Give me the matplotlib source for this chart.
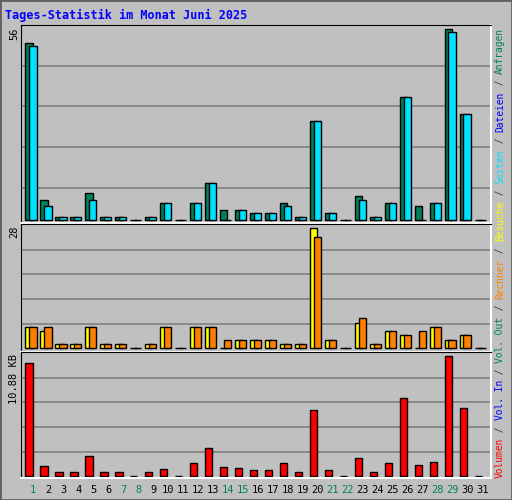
import matplotlib
matplotlib.use("Agg")
import matplotlib.pyplot as plt
from matplotlib.patches import Rectangle

days = list(range(1, 32))
hits  = [52,6,1,1,8,1,1,0,1,5,0,5,11,3,3,2,2,5,1,29,2,0,7,1,5,36,4,5,56,31,0]
files = [51,4,1,1,6,1,1,0,1,5,0,5,11,0,3,2,2,4,1,29,2,0,6,1,5,36,0,5,55,31,0]
visits = [5,4,1,1,5,1,1,0,1,5,0,5,5,0,2,2,2,1,1,28,2,0,6,1,4,3,0,5,2,3,0]
sites  = [5,5,1,1,5,1,1,0,1,5,0,5,5,2,2,2,2,1,1,26,2,0,7,1,4,3,4,5,2,3,0]
kbytes = [10.24,0.85,0.30,0.30,1.76,0.30,0.30,0,0.30,0.58,0,1.12,2.49,0.76,0.67,0.49,0.49,1.12,0.30,5.96,0.49,0,1.58,0.30,1.12,7.05,0.94,1.22,10.88,6.14,0]
weekend = [1,7,8,14,15,21,22,28,29]
title = "Tages-Statistik im Monat Juni 2025"

BG = "#C0C0C0"
GREEN = "#00805C"; CYAN = "#00E0FF"; YEL = "#FFFF00"; ORA = "#FF8000"; RED = "#FF0000"; BLUE = "#0000FF"
MONO = "DejaVu Sans Mono"

fig = plt.figure(figsize=(5.12, 5.0), dpi=100, facecolor=BG)
fig.patches.append(Rectangle((0, 0), 1, 1, transform=fig.transFigure, fill=False, edgecolor="#606060", lw=2))
fig.text(5/512, 1-15/500, title, color=BLUE, fontsize=8.5, fontweight="bold", family=MONO, va="center")

W = 0.49
def mkax(rect, ylim, grid):
    ax = fig.add_axes(rect, facecolor=BG)
    ax.set_xlim(0.16, 31.55); ax.set_ylim(*ylim)
    ax.set_xticks([]); ax.set_yticks([])
    for s in ("top", "left"): ax.spines[s].set_color("#000000")
    for s in ("bottom", "right"): ax.spines[s].set_color("white"); ax.spines[s].set_linewidth(1.5)
    for f in grid:
        ax.plot([0, 1], [f, f], transform=ax.transAxes, color="#808080", lw=1.2, zorder=0)
    return ax

ax1 = mkax([0.0404, 0.554, 0.918, 0.396], (-0.88, 57.2), [0.179, 0.384, 0.589, 0.794])
ax1.bar([d-0.53 for d in days], hits, width=W, align="edge", color=GREEN, edgecolor="black", lw=1, zorder=2)
ax1.bar([d-0.27 for d in days], files, width=W, align="edge", color=CYAN, edgecolor="black", lw=1, zorder=3)

ax2 = mkax([0.0404, 0.2966, 0.918, 0.2554], (-0.78, 29.0), [0.214, 0.41, 0.606, 0.80])
ax2.bar([d-0.53 for d in days], visits, width=W, align="edge", color=YEL, edgecolor="black", lw=1, zorder=2)
ax2.bar([d-0.27 for d in days], sites, width=W, align="edge", color=ORA, edgecolor="black", lw=1, zorder=3)

ax3 = mkax([0.0404, 0.0434, 0.918, 0.252], (-0.24, 11.25), [0.206, 0.405, 0.603, 0.80])
ax3.bar([d-0.53 for d in days], kbytes, width=W, align="edge", color=RED, edgecolor="black", lw=1, zorder=2)

for d in days:
    fig.text((33.3 + (d-1)*14.97)/512, 1-490/500, str(d), ha="center", va="center",
             fontsize=7.5, family=MONO, color=GREEN if d in weekend else "black")

for ypx, lab in [(28, "56"), (226, "28"), (354, "10.88 KB")]:
    fig.text(14/512, 1-ypx/500, lab, rotation=90, ha="center", va="top", fontsize=7.5, family=MONO)

pieces = [("Volumen", RED), (" / ", "#404040"), ("Vol. In", BLUE), (" / ", "#404040"),
          ("Vol. Out", GREEN), (" / ", "#404040"), ("Rechner", ORA), (" / ", "#404040"),
          ("Besuche", YEL), (" / ", "#404040"), ("Seiten", CYAN), (" / ", "#404040"),
          ("Dateien", BLUE), (" / ", "#404040"), ("Anfragen", GREEN)]
cw = 5.77
ypos = 478
for txt, col in pieces:
    fig.text(500/512, 1-ypos/500, txt, rotation=90, rotation_mode="anchor", ha="left", va="center",
             fontsize=6.9, family=MONO, color=col)
    ypos -= cw*len(txt)

fig.savefig("out.png", dpi=100, facecolor=BG)
